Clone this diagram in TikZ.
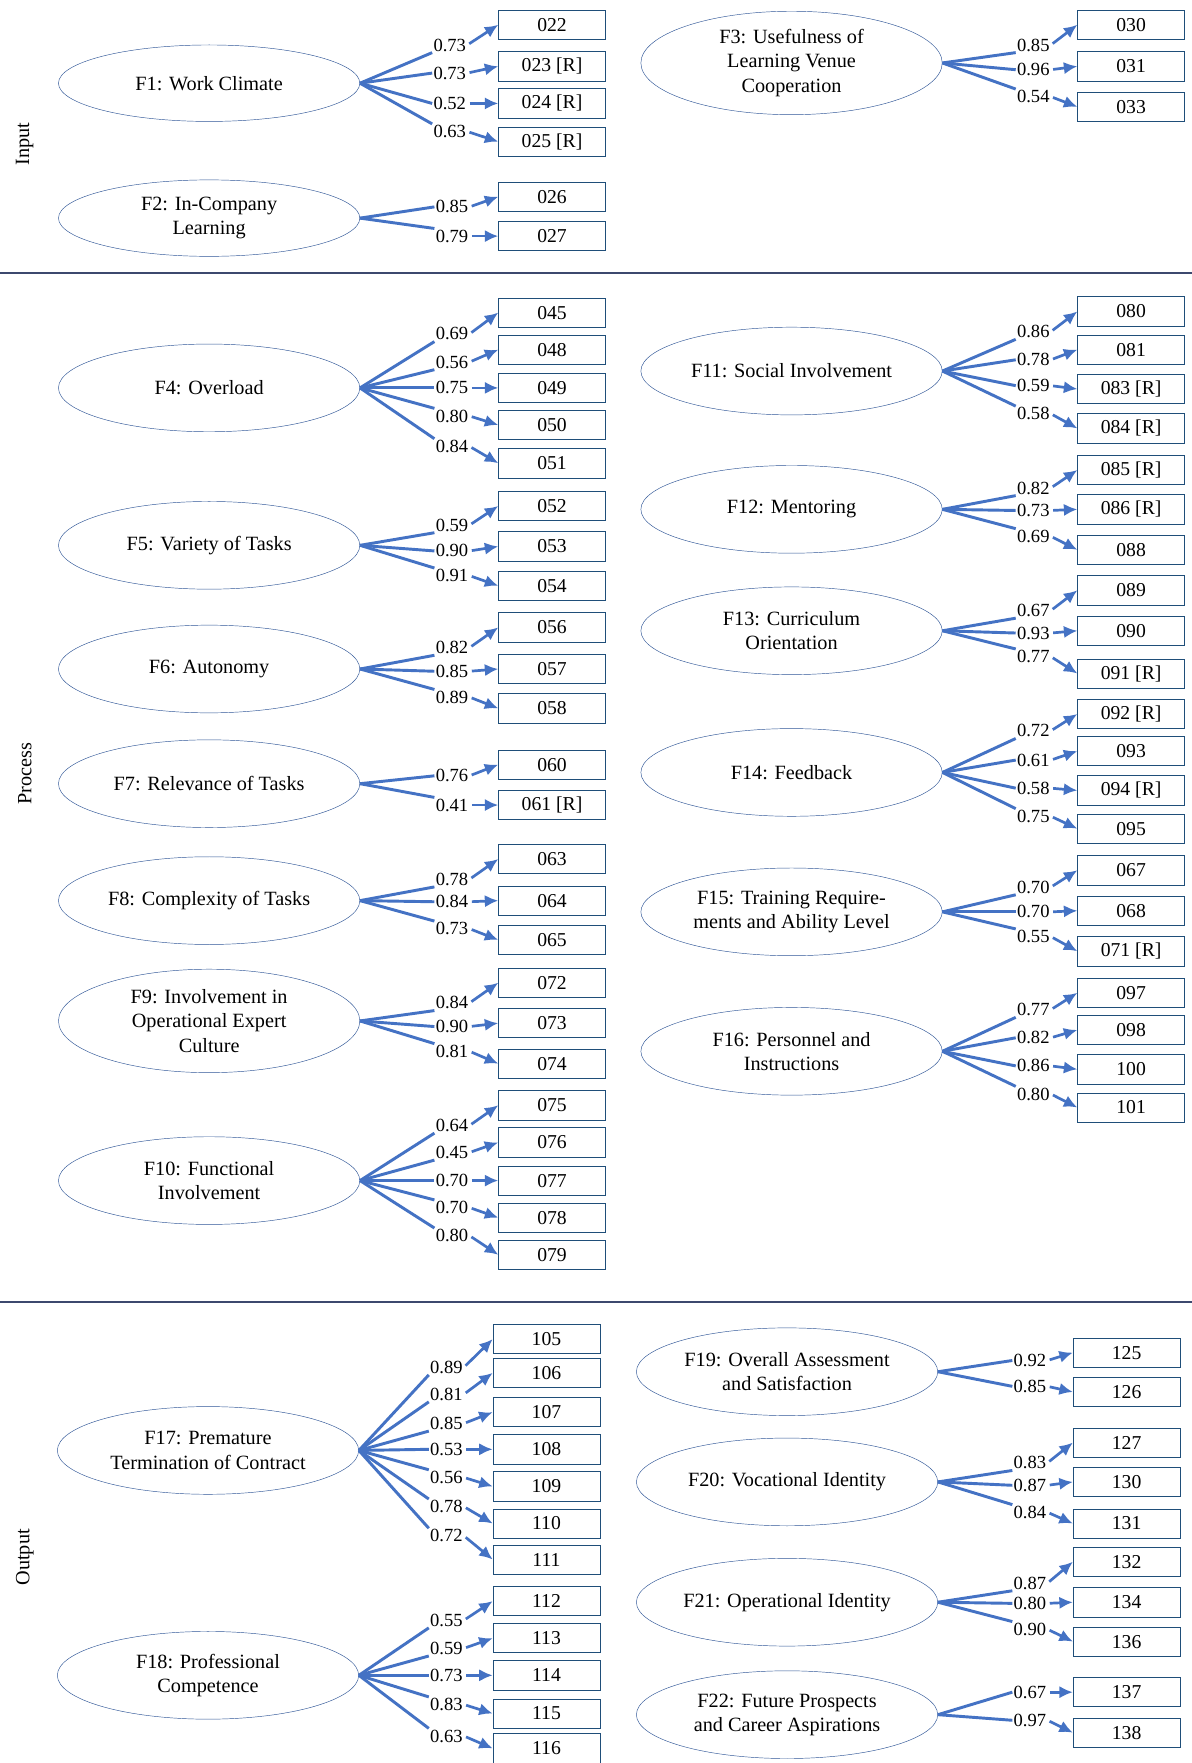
\documentclass[tikz,border=0pt]{standalone}
\usepackage{fontspec}
\setmainfont{Liberation Serif}
\usetikzlibrary{shapes.geometric, arrows.meta, positioning}
\definecolor{loadblue}{RGB}{68,114,196}
\definecolor{factorblue}{RGB}{47,85,151}
\definecolor{itemblue}{RGB}{31,78,121}
\definecolor{rulegray}{RGB}{60,72,110}
\tikzset{
    factor/.style={ellipse, draw=factorblue, thin, minimum width=268pt, minimum height=78pt, inner sep=0pt, align=center, font=\fontsize{18}{21.5}\selectfont},
    indicator/.style={rectangle, draw=itemblue, semithick, minimum width=95pt, minimum height=26pt, inner sep=0pt, font=\fontsize{17.5}{20}\selectfont},
    weight/.style={inner sep=1pt, font=\fontsize{16.5}{19}\selectfont},
    loadline/.style={loadblue, line width=2.6pt},
    loadarrow/.style={-{Latex[length=12pt,width=11pt]}, loadblue, line width=2.4pt, shorten <=2pt},
    section/.style={rotate=90, font=\fontsize{18}{21}\selectfont},
    divider/.style={rulegray, line width=1.3pt},
}
% one factor with its loadings and items
\newcommand{\fanout}[4]{%
  \foreach \w/\wy/\code/\cy/\anc [count=\i] in {#4} {
    \node[weight] (#1w\i) at (#2,\wy) {\w};
    \node[indicator] (#1x\i) at (#3,\cy) {\code};
    \draw[loadline] (#1.east) -- (#1w\i.\anc);
    \draw[loadarrow] (#1w\i.east) -- (#1x\i.west);
  }}

\begin{document}
\begin{tikzpicture}[x=1pt, y=-1pt]
    \fill[white] (0,0) rectangle (1060,1568);
    \useasboundingbox (0,0) rectangle (1060,1568);

    % sections
    \node[section] (input) at (22,128) {Input};
    \node[section] (process) at (22,688) {Process};
    \node[section] (output) at (22,1385) {Output};
    \draw[divider] (0,243) -- (1060,243);
    \draw[divider] (0,1158) -- (1060,1158);

    % Input
    \node[factor, minimum height=68pt] (F1) at (186,74) {F1: Work Climate};
    \node[factor, minimum height=68pt] (F2) at (186,194) {F2: In-Company\\Learning};
    \node[factor, minimum height=92pt] (F3) at (704,56) {F3: Usefulness of\\Learning Venue\\Cooperation};
    \fanout{F1}{400}{491}{0.73/40/022/22/south west, 0.73/65/023 [R]/59/west, 0.52/92/024 [R]/92/west, 0.63/117/025 [R]/126/north west}
    \fanout{F2}{402}{491}{0.85/184/026/175/west, 0.79/210/027/210/north west}
    \fanout{F3}{919}{1006}{0.85/40/030/22/south west, 0.96/62/031/59/west, 0.54/86/033/95/north west}

    % Process
    \node[factor] (F4) at (186,345) {F4: Overload};
    \node[factor] (F5) at (186,485) {F5: Variety of Tasks};
    \node[factor] (F6) at (186,595) {F6: Autonomy};
    \node[factor] (F7) at (186,697) {F7: Relevance of Tasks};
    \node[factor] (F8) at (186,801) {F8: Complexity of Tasks};
    \node[factor, minimum height=92pt] (F9) at (186,908) {F9: Involvement in\\Operational Expert\\Culture};
    \node[factor] (F10) at (186,1050) {F10: Functional\\Involvement};
    \node[factor] (F11) at (704,330) {F11: Social Involvement};
    \node[factor] (F12) at (704,453) {F12: Mentoring};
    \node[factor] (F13) at (704,561) {F13: Curriculum\\Orientation};
    \node[factor] (F14) at (704,687) {F14: Feedback};
    \node[factor] (F15) at (704,811) {F15: Training Require-\\ments and Ability Level};
    \node[factor] (F16) at (704,935) {F16: Personnel and\\Instructions};
    \fanout{F4}{402}{491}{0.69/297/045/278/south west, 0.56/322/048/311/south west, 0.75/345/049/345/west, 0.80/370/050/378/north west, 0.84/397/051/412/north west}
    \fanout{F5}{402}{491}{0.59/467/052/450/south west, 0.90/490/053/486/west, 0.91/512/054/521/north west}
    \fanout{F6}{402}{491}{0.82/576/056/558/south west, 0.85/597/057/595/west, 0.89/620/058/630/north west}
    \fanout{F7}{402}{491}{0.76/690/060/680/west, 0.41/716/061 [R]/716/north west}
    \fanout{F8}{402}{491}{0.78/782/063/764/south west, 0.84/802/064/801/west, 0.73/826/065/836/north west}
    \fanout{F9}{402}{491}{0.84/892/072/874/south west, 0.90/913/073/910/west, 0.81/935/074/946/north west}
    \fanout{F10}{402}{491}{0.64/1001/075/983/south west, 0.45/1025/076/1016/south west, 0.70/1050/077/1050/west, 0.70/1074/078/1083/north west, 0.80/1099/079/1116/north west}
    \fanout{F11}{919}{1006}{0.86/295/080/277/south west, 0.78/320/081/311/west, 0.59/343/083 [R]/346/west, 0.58/368/084 [R]/381/north west}
    \fanout{F12}{919}{1006}{0.82/434/085 [R]/418/south west, 0.73/454/086 [R]/453/west, 0.69/477/088/489/north west}
    \fanout{F13}{919}{1006}{0.67/543/089/525/south west, 0.93/563/090/561/west, 0.77/584/091 [R]/599/north west}
    \fanout{F14}{919}{1006}{0.72/650/092 [R]/635/south west, 0.61/676/093/668/west, 0.58/701/094 [R]/703/west, 0.75/726/095/737/north west}
    \fanout{F15}{919}{1006}{0.70/789/067/774/south west, 0.70/811/068/810/west, 0.55/833/071 [R]/846/north west}
    \fanout{F16}{919}{1006}{0.77/898/097/883/south west, 0.82/923/098/916/west, 0.86/948/100/951/west, 0.80/973/101/985/north west}

    % Output
    \node[factor] (F17) at (185,1290) {F17: Premature\\Termination of Contract};
    \node[factor] (F18) at (185,1490) {F18: Professional\\Competence};
    \node[factor] (F19) at (700,1220) {F19: Overall Assessment\\and Satisfaction};
    \node[factor] (F20) at (700,1318) {F20: Vocational Identity};
    \node[factor] (F21) at (700,1425) {F21: Operational Identity};
    \node[factor] (F22) at (700,1525) {F22: Future Prospects\\and Career Aspirations};
    \fanout{F17}{397}{486}{0.89/1216/105/1191/south west, 0.81/1240/106/1221/south west, 0.85/1266/107/1256/south west, 0.53/1289/108/1289/west, 0.56/1314/109/1322/north west, 0.78/1340/110/1355/north west, 0.72/1366/111/1387/north west}
    \fanout{F18}{397}{486}{0.55/1441/112/1424/south west, 0.59/1466/113/1457/south west, 0.73/1490/114/1490/west, 0.83/1516/115/1524/north west, 0.63/1544/116/1555/north west}
    \fanout{F19}{916}{1002}{0.92/1210/125/1203/west, 0.85/1233/126/1238/west}
    \fanout{F20}{916}{1002}{0.83/1301/127/1283/south west, 0.87/1321/130/1318/west, 0.84/1345/131/1355/north west}
    \fanout{F21}{916}{1002}{0.87/1408/132/1389/south west, 0.80/1426/134/1425/west, 0.90/1449/136/1460/north west}
    \fanout{F22}{916}{1002}{0.67/1505/137/1505/west, 0.97/1530/138/1541/west}
\end{tikzpicture}
\end{document}
